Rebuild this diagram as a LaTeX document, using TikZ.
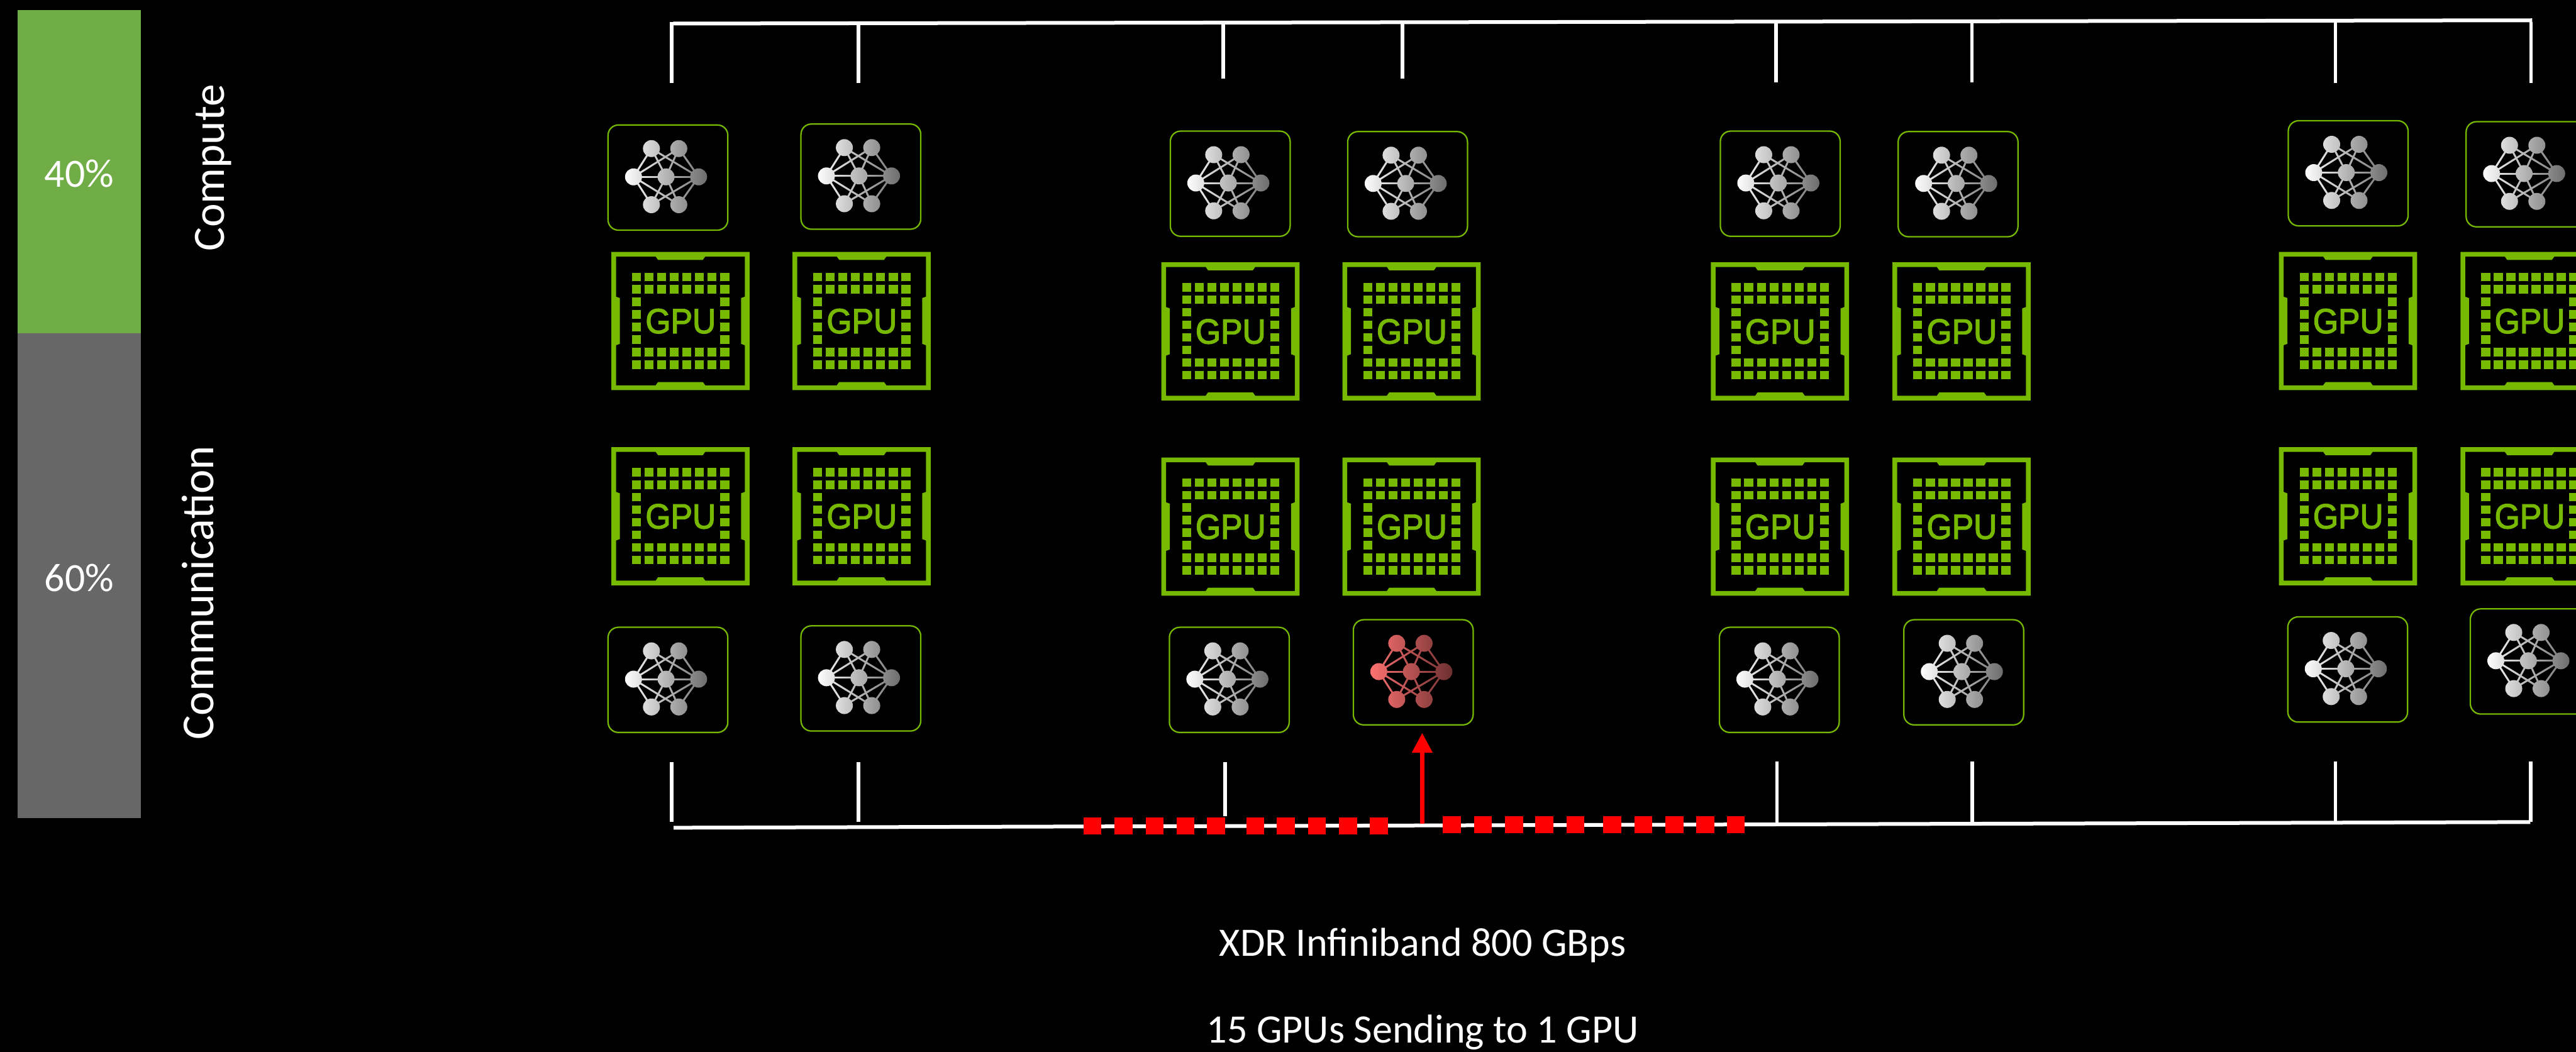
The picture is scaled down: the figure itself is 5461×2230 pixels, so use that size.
\documentclass[tikz,border=0pt]{standalone}
\usepackage{fontspec}
\setmainfont{Carlito}
\newfontfamily\gpufont[FakeBold=2.5]{Liberation Sans}
\usetikzlibrary{fadings,arrows.meta}
\definecolor{nvgreen}{HTML}{76B900}
\definecolor{netwhite}{HTML}{FFFFFF}
\definecolor{netred}{HTML}{FF7272}
\definecolor{barGreen}{HTML}{70AD47}
\definecolor{barGray}{HTML}{676767}
\tikzfading[name=netfade, left color=transparent!100, right color=transparent!0]
\tikzset{
  wire/.style={draw=white, line width=4pt},
  tick/.style={draw=white, line width=3.5pt},
  redsq/.style={fill=red, inner sep=0pt, outer sep=0pt, minimum width=19pt, minimum height=18pt},
  barlabel/.style={text=white, font=\fontsize{42.5pt}{50pt}\selectfont, inner sep=0pt},
  sidelabel/.style={text=white, rotate=90, anchor=base, inner sep=0pt},
  caption/.style={text=white, font=\fontsize{42.8pt}{50pt}\selectfont, anchor=base, inner sep=0pt},
  netdot/.style={circle, fill=#1, inner sep=0pt, minimum size=18pt},
  pics/net/.style={code={
    \foreach \nm/\px/\py in {l/54/110,c/123/110,r/192/110,tl/92/50,tr/150/50,bl/92/169,br/150/169}
      \node[netdot=#1] (\nm) at (\px,\py) {};
    \foreach \aa/\bb in {l/tl,l/tr,l/c,l/bl,l/br,r/tl,r/tr,r/c,r/bl,r/br,c/tl,c/tr,c/bl,c/br}
      \draw[#1, line width=2pt] (\aa.center) -- (\bb.center);
    \fill[black, fill opacity=.58, path fading=netfade] (34,30) rectangle (212,190);
    \node[draw=nvgreen, line width=1.5pt, rounded corners=11pt, minimum width=127pt, minimum height=111.5pt, inner sep=0pt, outer sep=0pt] (box) at (127,111.5) {};
  }},
  pics/gpu/.style={code={
    \fill[nvgreen, even odd rule] (0,0) rectangle (293,293)
      (10,10) -- (94,10) -- (99,17) -- (194,17) -- (199,10) -- (283,10) -- (283,95) -- (275,98) -- (275,195) -- (283,198)
      -- (283,283) -- (199,283) -- (194,276) -- (99,276) -- (94,283) -- (10,283) -- (10,198) -- (18,195) -- (18,98) -- (10,95) -- cycle;
    \foreach \r in {0,1,6,7} \foreach \c in {0,...,7}
      \fill[nvgreen] ({44+26.7*\c},{44+26.6*\r}) rectangle +(19,18);
    \foreach \r in {2,...,5} \foreach \c in {0,7}
      \fill[nvgreen] ({44+26.7*\c},{44+26.6*\r}) rectangle +(19,18);
    \node[text=nvgreen, inner sep=0pt, font=\gpufont\fontsize{37pt}{37pt}\selectfont] (lbl) at (147,147) {\scalebox{0.93}[1]{GPU}};
  }},
}
\begin{document}
\begin{tikzpicture}[x=0.5pt,y=-0.5pt]
\useasboundingbox (0,0) rectangle (5461,2230);
\clip (0,0) rectangle (5461,2230);
\fill[black] (0,0) rectangle (5461,2230);

% bars
\fill[barGreen] (37,21) rectangle (299,707);
\fill[barGray] (37,707) rectangle (299,1735);
\node[barlabel] (pct40) at (168,368) {40\%};
\node[barlabel] (pct60) at (168,1225) {60\%};
\node[sidelabel, font=\fontsize{47.5pt}{56pt}\selectfont] (compute) at (475,356) {Compute};
\node[sidelabel, font=\fontsize{48.5pt}{56pt}\selectfont] (comm) at (453,1257) {Communication};

% top bracket
\coordinate (topLh) at (1427,50);
\coordinate (topRh) at (5368,43);
\draw[wire] (topLh) -- (topRh);
\foreach \k/\x/\yt/\yb in {a/1424/47/176,b/1820/49/176,c/2593/48/166,d/2973/47/166,e/3765/46/174,f/4180/45/174,g/4951/44/176,h/5366/47/176}{
  \coordinate (tt\k) at (\x,\yt);
  \coordinate (tb\k) at (\x,\yb);
  \draw[tick] (tt\k) -- (tb\k);
}

% bottom bracket
\coordinate (botLh) at (1428,1755);
\coordinate (botRh) at (5364,1743);
\draw[wire] (botLh) -- (botRh);
\foreach \k/\x/\yt/\yb in {a/1424/1616/1742,b/1820/1616/1742,c/2597/1616/1730,d/3767/1615/1746,e/4181/1615/1745,f/4951/1615/1743,g/5365/1615/1743}{
  \coordinate (bt\k) at (\x,\yt);
  \coordinate (bb\k) at (\x,\yb);
  \draw[tick] (bt\k) -- (bb\k);
}

% red packets
\foreach \i/\x in {1/2316,2/2382,3/2448,4/2513,5/2578,6/2661,7/2726,8/2792,9/2858,10/2923}
  \node[redsq] (sl\i) at (\x,1751) {};
\foreach \i/\x in {1/3078,2/3144,3/3210,4/3274,5/3340,6/3418,7/3484,8/3550,9/3615,10/3680}
  \node[redsq] (sr\i) at (\x,1749) {};

% icons
\foreach \n/\x/\y in {n1/1289/265,n2/1698/263,n3/2481/278,n4/2857/279,n5/3647/278,n6/4024/279,n7/4851/256,n8/5228/258,
  b1/1289/1330,b2/1698/1327,b3/2479/1330,b5/3645/1330,b6/4036/1314,b7/4850/1308,b8/5237/1291}
  \pic (\n) at (\x,\y) {net=netwhite};
\pic (redicon) at (2869,1314) {net=netred};

% GPUs
\foreach \n/\x/\y in {ga/1296/534,gb/1680/534,gc/2462/556,gd/2846/556,ge/3627/556,gf/4012/556,gg/4831/534,gh/5216/534,
  ha/1296/948,hb/1680/948,hc/2462/970,hd/2846/970,he/3627/970,hf/4012/970,hg/4831/948,hh/5216/948}
  \pic (\n) at (\x,\y) {gpu};

% arrow
\coordinate (arrowFoot) at (3015,1746);
\coordinate (arrowTip) at (3015,1554);
\draw[draw=red, line width=4.3pt, -{Triangle[length=21pt,width=21pt]}] (arrowFoot) -- (arrowTip);

% captions
\node[caption] (cap1) at (3016,2027) {XDR Infiniband 800 GBps};
\node[caption] (cap2) at (3016,2211) {15 GPUs Sending to 1 GPU};
\end{tikzpicture}
\end{document}
